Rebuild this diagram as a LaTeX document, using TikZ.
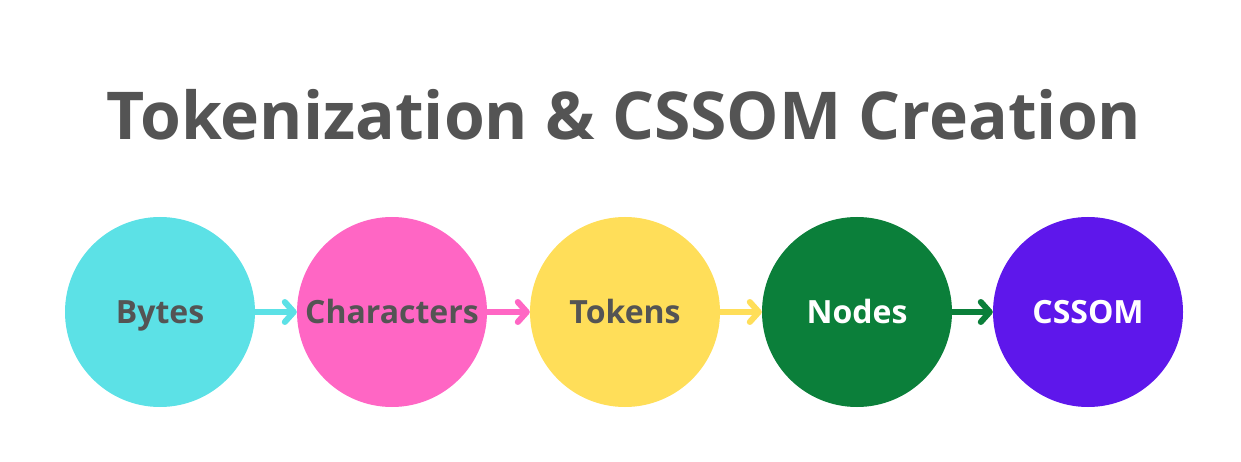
\documentclass[tikz,border=0pt]{standalone}
\usepackage{fontspec}
\setmainfont{Open Sans}
\usepackage{tikz}
\usetikzlibrary{arrows.meta}

\definecolor{bytecol}{HTML}{5CE1E6}
\definecolor{charcol}{HTML}{FF66C4}
\definecolor{tokencol}{HTML}{FFDE59}
\definecolor{nodecol}{HTML}{0B7F3A}
\definecolor{cssomcol}{HTML}{5E17EB}
\definecolor{textgray}{HTML}{545454}

\begin{document}
\begin{tikzpicture}[x=1pt, y=-1pt,
  step circle/.style={circle, minimum size=190pt, inner sep=0pt,
    text height=23pt, text depth=0pt,
    font=\fontsize{32}{34}\selectfont\bfseries, text=textgray},
  flow/.style={line width=6pt, -{Straight Barb[length=9pt, width=20pt, line width=6pt, round]}}]

% fix the frame
\useasboundingbox (0, 0) rectangle (1241, 462);

% draw title
\node[anchor=base, text=textgray, font=\fontsize{66}{72}\selectfont\bfseries] (title) at (624, 140) {Tokenization \& CSSOM Creation};

% draw circles
\node[step circle, fill=bytecol] (bytes) at (160, 312) {Bytes};
\node[step circle, fill=charcol] (chars) at (392, 312) {Characters};
\node[step circle, fill=tokencol] (tokens) at (625, 312) {Tokens};
\node[step circle, fill=nodecol, text=white] (nodes) at (857, 312) {Nodes};
\node[step circle, fill=cssomcol, text=white] (cssom) at (1088, 312) {CSSOM};

% draw arrows
\draw[flow, color=bytecol] (bytes) -- (chars);
\draw[flow, color=charcol] (chars) -- (tokens);
\draw[flow, color=tokencol] (tokens) -- (nodes);
\draw[flow, color=nodecol] (nodes) -- (cssom);

\end{tikzpicture}
\end{document}
